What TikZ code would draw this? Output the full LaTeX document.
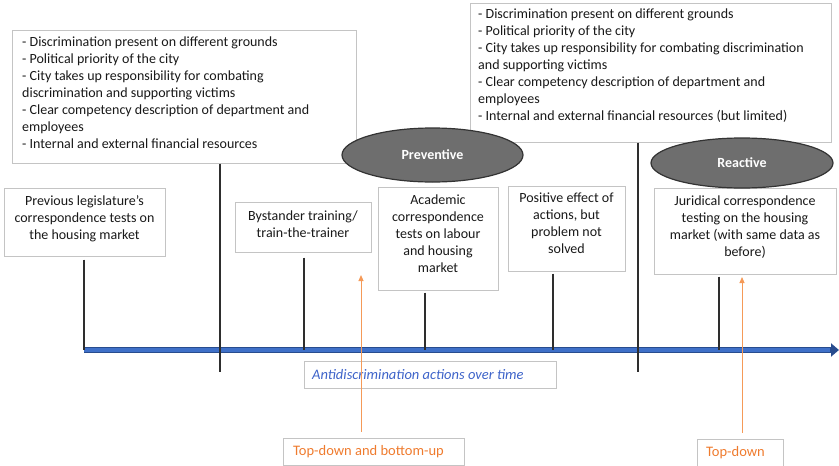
\documentclass[tikz,border=0pt]{standalone}
\usepackage{fontspec}
\setmainfont{Carlito}
\usetikzlibrary{shapes.geometric,arrows.meta}
\definecolor{frame}{HTML}{C4C4C4}
\definecolor{stem}{HTML}{2E2E2E}
\definecolor{axisblue}{HTML}{3F70C8}
\definecolor{axisedge}{HTML}{284C8E}
\definecolor{ovalfill}{HTML}{6E6E6E}
\definecolor{ovaledge}{HTML}{333333}
\definecolor{orangeline}{HTML}{F59A58}
\definecolor{orangetext}{HTML}{EF7B2E}
\definecolor{labelblue}{HTML}{3D63C9}
\begin{document}
\begin{tikzpicture}[x=1pt,y=-1pt,
  framebox/.style={draw=frame, line width=1pt, fill=white, inner sep=0pt},
  body/.style={font=\fontsize{14}{17}\selectfont, text=black!90, align=center, inner sep=0pt},
  stemline/.style={draw=stem, line width=1.3pt},
  oval/.style={ellipse, draw=ovaledge, fill=ovalfill, line width=1.2pt, inner sep=0pt,
    font=\bfseries\fontsize{14}{16}\selectfont, text=white},
  trend/.style={draw=orangeline, line width=1pt, -{Triangle[length=6pt,width=5pt]}},
  tag/.style={draw=frame, line width=1pt, inner sep=0pt},
  tagtext/.style={font=\fontsize{14.5}{16}\selectfont, inner sep=0pt, anchor=west}]
\useasboundingbox (0,0) rectangle (839,466);

% context boxes above the time line
\node[framebox, minimum width=344pt, minimum height=133pt] (ctx1) at (184,96.5) {};
\node[body, align=left, anchor=north west] (ctx1t) at (22,37) {%
- Discrimination present on different grounds\\
- Political priority of the city\\
- City takes up responsibility for combating\\
discrimination and supporting victims\\
- Clear competency description of department and\\
employees\\
- Internal and external financial resources};

\node[framebox, minimum width=361pt, minimum height=139pt] (ctx2) at (650.5,72.5) {};
\node[body, align=left, anchor=north west] (ctx2t) at (478,9) {%
- Discrimination present on different grounds\\
- Political priority of the city\\
- City takes up responsibility for combating discrimination\\
and supporting victims\\
- Clear competency description of department and\\
employees\\
- Internal and external financial resources (but limited)};

% action boxes
\node[framebox, minimum width=161pt, minimum height=68pt] (prev) at (84.5,222) {};
\node[body] (prevt) at (84.5,219) {Previous legislature's\\correspondence tests on\\the housing market};

\node[framebox, minimum width=136pt, minimum height=50pt] (bys) at (303,227) {};
\node[body] (byst) at (303,224.5) {Bystander training/\\train-the-trainer};

\node[framebox, minimum width=120pt, minimum height=103pt] (acad) at (438,238.5) {};
\node[body] (acadt) at (438,234) {Academic\\correspondence\\tests on labour\\and housing\\market};

\node[framebox, minimum width=117pt, minimum height=85pt] (posi) at (566.5,228.5) {};
\node[body] (posit) at (566.5,223.5) {Positive effect of\\actions, but\\problem not\\solved};

\node[framebox, minimum width=182pt, minimum height=86pt] (jur) at (745,231) {};
\node[body] (jurt) at (745,227) {Juridical correspondence\\testing on the housing\\market (with same data as\\before)};

% phase ovals
\node[oval, minimum width=181pt, minimum height=54pt] (prevent) at (432.5,155) {Preventive};
\node[oval, minimum width=182pt, minimum height=50pt] (react) at (742,163) {Reactive};

% time axis
\coordinate (t0) at (84,350);
\coordinate (tend) at (839,350);
\coordinate (tin) at (830,350);
\draw[axisedge, line width=6pt, -{Triangle[length=8pt,width=13pt]}] (t0) -- (tend);
\draw[axisblue, line width=3.6pt] (t0) -- (tin);

% stems from boxes to the axis
\coordinate (s1) at (220,372);
\coordinate (s2) at (638,372);
\coordinate (k2) at (304,350);
\coordinate (k3) at (425,350);
\coordinate (k4) at (553,350);
\coordinate (k5) at (719,350);
\draw[stemline] (ctx1.south -| s1) -- (s1);
\draw[stemline] (ctx2.south -| s2) -- (s2);
\draw[stemline, shorten <=3pt] (prev.south -| t0) -- (t0);
\draw[stemline, shorten <=5pt] (bys.south -| k2) -- (k2);
\draw[stemline, shorten <=2pt] (acad.south -| k3) -- (k3);
\draw[stemline, shorten <=2pt] (posi.south -| k4) -- (k4);
\draw[stemline, shorten <=2pt] (jur.south -| k5) -- (k5);

% caption of the axis
\node[tag, minimum width=252pt, minimum height=27pt] (cap) at (430,374.5) {};
\node[tagtext, text=labelblue, font=\itshape\fontsize{14.5}{16}\selectfont] (capt) at (312,374.5) {Antidiscrimination actions over time};

% approach labels
\node[tag, minimum width=181pt, minimum height=27pt] (mix) at (373.5,451.5) {};
\node[tagtext, text=orangetext] (mixt) at (293,451.5) {Top-down and bottom-up};
\node[tag, minimum width=86pt, minimum height=27pt] (topdown) at (740,452.5) {};
\node[tagtext, text=orangetext] (topdownt) at (706,452.5) {Top-down};

\coordinate (a1) at (361,275);
\coordinate (a2) at (742,277);
\draw[trend, shorten <=6pt] (mix.north -| a1) -- (a1);
\draw[trend, shorten <=6pt] (topdown.north -| a2) -- (a2);
\end{tikzpicture}
\end{document}
